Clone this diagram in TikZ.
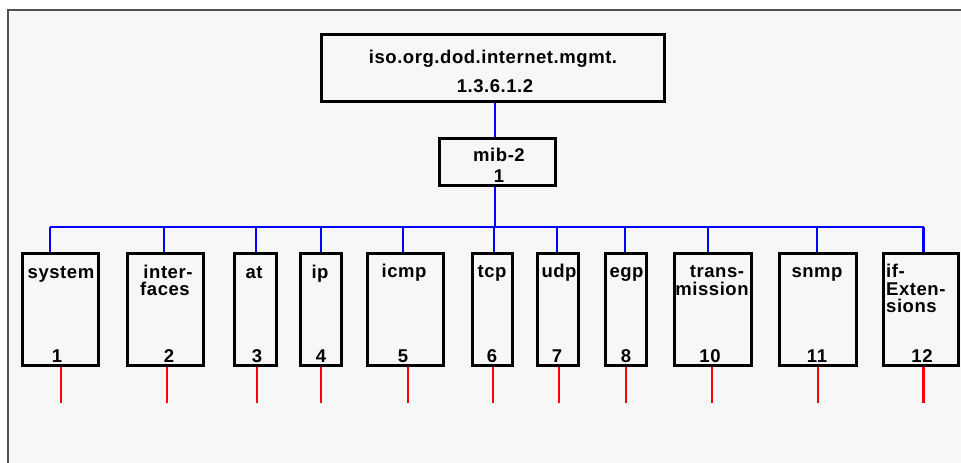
\documentclass[tikz,border=0pt]{standalone}
\usepackage{fontspec}
\setmainfont{Liberation Sans}[LetterSpace=3]
\begin{document}
\begin{tikzpicture}[x=1pt,y=-1pt,
  box/.style={draw=black,line width=3pt,rectangle,inner sep=0pt},
  lbl/.style={font=\fontsize{18.5}{19}\bfseries\selectfont,anchor=base,inner sep=0pt},
  bl/.style={draw={rgb,255:red,0;green,0;blue,255},line width=2.8pt},
  rd/.style={draw={rgb,255:red,255;green,0;blue,0},line width=2.6pt},
  bl2/.style={bl,line width=3.8pt},
  rd2/.style={rd,line width=3.6pt}]
\useasboundingbox (0,0) rectangle (961,463);
\fill[white] (0,0) rectangle (961,463);
\fill[gray!6] (9,11) rectangle (961,463);
\draw[draw={rgb,255:red,80;green,80;blue,80},line width=2pt] (8,463) -- (8,10) -- (961,10);

% top boxes
\node[box,minimum width=343pt,minimum height=67.5pt] (top) at (493,67.75) {};
\node[lbl] (topa) at (493,63) {iso.org.dod.internet.mgmt.};
\node[lbl] (topb) at (495,92) {1.3.6.1.2};
\node[box,minimum width=116pt,minimum height=47pt] (mib) at (497.5,162) {};
\node[lbl] (miba) at (499,161) {mib-2};
\node[lbl] (mibb) at (499,182) {1};

% children boxes
\foreach \n/\cx/\w in {sys/60.25/75.5, ifc/165.25/75.5, at/255.5/42, ip/320.75/40.5,
  icmp/405.25/75.5, tcp/492.4/40, udp/557.75/40.5, egp/626/41, trans/712.75/76.5,
  snmp/817.75/76.5, ifx/920.75/75}
  \node[box,minimum width=\w pt,minimum height=112pt] (\n) at (\cx,309.5) {};

% labels
\node[lbl] (sysT) at (61,278) {system};
\node[lbl] (ifcT1) at (168,278) {inter-};
\node[lbl] (ifcT2) at (165,295) {faces};
\node[lbl] (atT) at (254,278) {at};
\node[lbl] (ipT) at (320,278) {ip};
\node[lbl] (icmpT) at (404,277) {icmp};
\node[lbl] (tcpT) at (492,277) {tcp};
\node[lbl] (udpT) at (559,277) {udp};
\node[lbl] (egpT) at (626.5,277) {egp};
\node[lbl] (transT1) at (717,277) {trans-};
\node[lbl] (transT2) at (712,295) {mission};
\node[lbl] (snmpT) at (817,277) {snmp};
\node[lbl,anchor=base west] (ifxT1) at (886,277) {if-};
\node[lbl,anchor=base west] (ifxT2) at (886,295) {Exten-};
\node[lbl,anchor=base west] (ifxT3) at (886,312) {sions};

% numbers
\foreach \n/\x/\t in {sysN/57/1, ifcN/169/2, atN/257/3, ipN/321/4, icmpN/403/5, tcpN/492/6,
  udpN/557/7, egpN/626/8, transN/710/10, snmpN/817/11, ifxN/922/12}
  \node[lbl] (\n) at (\x,362) {\t};

% blue tree
\coordinate (bus) at (495,227);
\coordinate (b1) at (50,227);
\coordinate (b12) at (923.5,227);
\draw[bl] (top.south -| bus) -- (mib.north -| bus);
\draw[bl] (mib.south -| bus) -- (bus);
\draw[bl] (b1) -- (b12);
\foreach \n/\x in {sys/50, ifc/164, at/256, ip/321, icmp/403, tcp/494, udp/557, egp/625, trans/708, snmp/817}
  \draw[bl] (\x,227) -- (\x,227 |- \n.north);
\draw[bl2] (b12) -- (b12 |- ifx.north);

% red stubs
\foreach \n/\x in {sys/61, ifc/167, at/257, ip/321, icmp/408, tcp/493, udp/559, egp/626, trans/712, snmp/818}
  \draw[rd] (\x,403) -- (\x,403 |- \n.south);
\coordinate (r12) at (923.5,403);
\draw[rd2] (r12) -- (r12 |- ifx.south);
\end{tikzpicture}
\end{document}
